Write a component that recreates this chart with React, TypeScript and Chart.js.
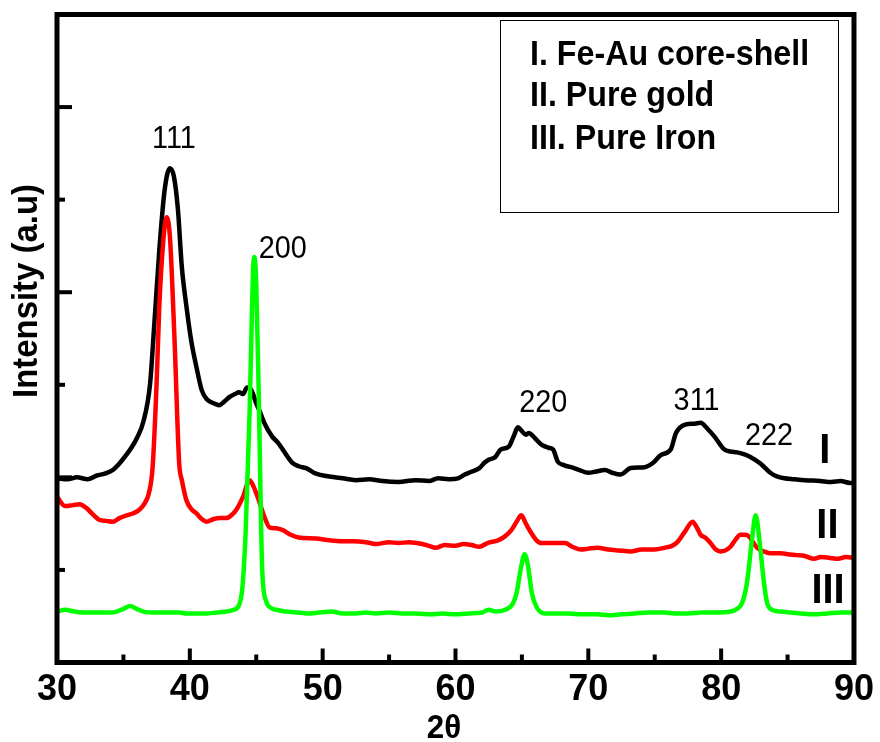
import React, { useEffect, useRef } from "react";
import { Chart, registerables } from "chart.js";

Chart.register(...registerables);

// 2θ positions (degrees) and intensities (a.u., offset per trace)
const coreShellX = [
  30.0, 30.8, 31.5, 32.3, 33.0, 33.6, 34.2, 34.7, 35.2, 35.6, 36.0, 36.5, 37.0, 37.3, 37.7, 38.1, 38.5, 38.8, 39.1,
  39.4, 39.75, 40.1, 40.5, 40.9, 41.3, 41.8, 42.2, 42.6, 43.0, 43.4, 43.7, 44.0, 44.3, 44.6, 45.0, 45.3, 45.6, 46.2,
  46.6, 47.0, 47.7, 48.2, 48.75, 49.5, 50.5, 51.5, 52.5, 53.5, 54.5, 55.7, 57.0, 58.0, 58.7, 59.5, 60.2, 60.7, 61.2,
  61.8, 62.2, 62.5, 63.0, 63.4, 64.0, 64.4, 64.7, 65.0, 65.3, 65.5, 66.0, 66.5, 67.0, 67.35, 67.7, 68.2, 68.7, 69.3,
  70.0, 70.5, 71.25, 71.8, 72.4, 73.2, 74.25, 74.9, 75.45, 76.2, 76.6, 77.3, 78.0, 78.45, 79.0, 79.5, 80.25, 80.7,
  81.2, 81.7, 82.2, 82.95, 83.7, 84.2, 84.75, 85.5, 86.3, 87.45, 88.3, 89.0, 89.7, 90.0,
];
const coreShellY = [
  1.99, 1.98, 2.0, 1.98, 2.02, 2.04, 2.08, 2.15, 2.24, 2.32, 2.42, 2.6, 3.0, 3.6, 4.45, 5.1, 5.34, 5.25, 4.9,
  4.27, 3.84, 3.48, 3.19, 2.94, 2.84, 2.8, 2.78, 2.82, 2.87, 2.9, 2.92, 2.9, 2.97, 2.95, 2.8, 2.7, 2.59, 2.44,
  2.38, 2.3, 2.16, 2.12, 2.1, 2.04, 2.01, 1.99, 1.97, 1.98, 1.96, 1.95, 1.97, 1.96, 1.99, 1.98, 1.99, 2.03, 2.06,
  2.1, 2.16, 2.19, 2.22, 2.3, 2.33, 2.45, 2.54, 2.5, 2.46, 2.48, 2.42, 2.35, 2.32, 2.3, 2.17, 2.13, 2.11, 2.08,
  2.05, 2.06, 2.08, 2.05, 2.03, 2.1, 2.11, 2.16, 2.24, 2.3, 2.48, 2.57, 2.58, 2.59, 2.52, 2.44, 2.3, 2.28,
  2.27, 2.25, 2.22, 2.15, 2.05, 2.01, 1.99, 1.98, 1.97, 1.96, 1.95, 1.96, 1.94, 1.94,
];

const goldX = [
  30.0, 30.6, 31.2, 31.7, 32.2, 32.7, 33.2, 33.7, 34.2, 34.7, 35.25, 35.7, 36.2, 36.6, 36.9, 37.2, 37.5, 37.7, 38.0,
  38.25, 38.5, 38.85, 39.2, 39.4, 39.75, 40.1, 40.5, 40.9, 41.25, 41.8, 42.3, 42.75, 43.2, 43.5, 44.0, 44.5, 44.8,
  45.2, 45.6, 46.0, 46.5, 47.0, 47.6, 48.2, 49.5, 50.5, 51.5, 52.3, 53.25, 54.0, 55.0, 55.7, 56.5, 57.5, 58.0, 58.5,
  59.2, 60.0, 60.6, 61.2, 61.8, 62.4, 63.2, 63.7, 64.2, 64.6, 64.95, 65.3, 65.7, 66.1, 66.45, 67.2, 68.25, 68.8,
  69.45, 70.0, 70.7, 71.5, 72.3, 73.2, 74.0, 74.8, 75.75, 76.3, 76.7, 77.3, 77.85, 78.2, 78.45, 78.8, 79.2, 79.6,
  79.95, 80.3, 80.7, 81.1, 81.45, 81.8, 82.1, 82.4, 82.7, 83.2, 83.7, 84.5, 85.0, 85.7, 86.3, 87.0, 87.5, 88.2,
  88.8, 89.4, 90.0,
];
const goldY = [
  1.79, 1.69, 1.7, 1.71, 1.67, 1.6, 1.54, 1.53, 1.52, 1.56, 1.59, 1.61, 1.65, 1.72, 1.82, 2.11, 3.02, 3.84, 4.55,
  4.81, 4.6, 3.48, 2.15, 1.97, 1.75, 1.66, 1.61, 1.55, 1.52, 1.55, 1.56, 1.56, 1.6, 1.65, 1.79, 1.97, 1.9,
  1.75, 1.58, 1.46, 1.45, 1.43, 1.38, 1.35, 1.34, 1.32, 1.31, 1.31, 1.3, 1.28, 1.3, 1.29, 1.3, 1.28, 1.26, 1.24,
  1.27, 1.26, 1.28, 1.27, 1.25, 1.29, 1.32, 1.36, 1.43, 1.52, 1.59, 1.5, 1.4, 1.32, 1.29, 1.29, 1.29, 1.25,
  1.22, 1.23, 1.24, 1.22, 1.21, 1.2, 1.22, 1.22, 1.24, 1.26, 1.3, 1.42, 1.52, 1.45, 1.38, 1.35, 1.29, 1.22,
  1.2, 1.21, 1.25, 1.33, 1.38, 1.38, 1.36, 1.3, 1.24, 1.2, 1.18, 1.18, 1.17, 1.16, 1.15, 1.12, 1.14, 1.13,
  1.12, 1.14, 1.13,
];

const ironX = [
  30.0, 30.6, 31.3, 32.0, 32.5, 33.3, 34.0, 34.5, 35.0, 35.5, 36.0, 36.5, 37.5, 38.5, 39.2, 39.75, 40.5, 41.2, 42.0,
  42.75, 43.3, 43.7, 43.95, 44.2, 44.5, 44.75, 44.85, 45.0, 45.2, 45.45, 45.75, 46.1, 46.5, 47.2, 48.2, 49.0, 49.7,
  50.7, 51.5, 52.5, 53.25, 54.0, 55.0, 56.0, 57.0, 58.2, 59.0, 60.0, 61.0, 62.0, 62.5, 63.0, 63.75, 64.3, 64.6,
  64.9, 65.2, 65.45, 65.75, 66.1, 66.75, 67.5, 68.5, 69.5, 70.7, 71.5, 72.5, 73.5, 74.5, 75.75, 76.5, 77.5, 78.5,
  79.5, 80.7, 81.2, 81.5, 81.8, 82.0, 82.3, 82.6, 82.9, 83.2, 83.45, 83.7, 84.5, 85.3, 86.0, 87.0, 88.0, 89.0, 90.0,
];
const ironY = [
  0.55, 0.57, 0.55, 0.54, 0.54, 0.54, 0.54, 0.55, 0.58, 0.61, 0.58, 0.55, 0.54, 0.54, 0.54, 0.53, 0.53, 0.53, 0.54,
  0.55, 0.57, 0.62, 0.8, 1.4, 2.7, 4.2, 4.38, 4.1, 2.8, 1.0, 0.66, 0.59, 0.57, 0.55, 0.54, 0.53, 0.54,
  0.55, 0.53, 0.53, 0.54, 0.53, 0.54, 0.53, 0.53, 0.52, 0.53, 0.52, 0.53, 0.54, 0.57, 0.55, 0.57, 0.63, 0.75,
  1.0, 1.17, 1.05, 0.75, 0.6, 0.53, 0.53, 0.53, 0.52, 0.52, 0.51, 0.52, 0.53, 0.54, 0.54, 0.53, 0.53, 0.54,
  0.54, 0.55, 0.58, 0.62, 0.75, 0.92, 1.3, 1.59, 1.3, 0.89, 0.65, 0.58, 0.55, 0.54, 0.53, 0.52, 0.53, 0.54, 0.54,
];

// Miller indices annotated over the peaks
const peakLabels = ["111", "200", "220", "311", "222"];
const peakLabelPos = [
  { x: 38.8, y: 5.56 },
  { x: 47.0, y: 4.37 },
  { x: 66.6, y: 2.71 },
  { x: 78.15, y: 2.73 },
  { x: 83.6, y: 2.35 },
];
// Trace labels at the right end
const traceLabels = ["I", "II", "III"];
const traceLabelPos = [
  { x: 87.8, y: 2.16 },
  { x: 88.0, y: 1.35 },
  { x: 88.05, y: 0.64 },
];
const legendLines = ["I. Fe-Au core-shell", "II. Pure gold", "III. Pure Iron"];

const xMin = 30;
const xMax = 90;
const yMin = 0;
const yMax = 7;

const FONT = '"Liberation Sans", Arial, Helvetica, sans-serif';

const toPoints = (xs: number[], ys: number[]) => xs.map((x, i) => ({ x, y: ys[i] }));

// Text in a slightly condensed face: draw at full size, squeeze horizontally
function condensedText(ctx: CanvasRenderingContext2D, text: string, x: number, y: number, font: string, sx: number, align: CanvasTextAlign) {
  ctx.save();
  ctx.font = font;
  ctx.textAlign = align;
  ctx.textBaseline = "alphabetic";
  ctx.translate(x, y);
  ctx.scale(sx, 1);
  ctx.fillText(text, 0, 0);
  ctx.restore();
}

// Frame with inward ticks, annotations and the text box
const decorations = {
  id: "decorations",
  afterDatasetsDraw(chart: any) {
    const { ctx, chartArea } = chart;
    const xs = chart.scales.x;
    const ys = chart.scales.y;
    const { left, right, top, bottom } = chartArea;
    ctx.save();
    ctx.strokeStyle = "#000";
    ctx.fillStyle = "#000";
    ctx.lineCap = "butt";

    // bottom axis ticks (pointing inward)
    ctx.lineWidth = 4;
    for (let v = xMin + 5; v < xMax; v += 5) {
      const px = xs.getPixelForValue(v);
      const len = v % 10 === 0 ? 14 : 8;
      ctx.beginPath();
      ctx.moveTo(px, bottom);
      ctx.lineTo(px, bottom - len);
      ctx.stroke();
    }
    // left axis ticks
    for (let v = yMin + 1; v < yMax; v += 1) {
      const py = ys.getPixelForValue(v);
      const len = v % 2 === 0 ? 15 : 8;
      ctx.beginPath();
      ctx.moveTo(left, py);
      ctx.lineTo(left + len, py);
      ctx.stroke();
    }
    // frame
    ctx.lineWidth = 5;
    ctx.strokeRect(left, top, right - left, bottom - top);

    // peak indices
    peakLabels.forEach((t, i) => {
      const p = peakLabelPos[i];
      condensedText(ctx, t, xs.getPixelForValue(p.x), ys.getPixelForValue(p.y), `32px ${FONT}`, 0.9, "center");
    });
    // trace numerals
    traceLabels.forEach((t, i) => {
      const p = traceLabelPos[i];
      condensedText(ctx, t, xs.getPixelForValue(p.x), ys.getPixelForValue(p.y), `bold 42px ${FONT}`, 0.95, "center");
    });

    // text box
    ctx.lineWidth = 1;
    ctx.strokeRect(500.5, 20.5, 338, 192);
    const baselines = [65, 106, 149];
    legendLines.forEach((t, i) => condensedText(ctx, t, 530, baselines[i], `bold 35px ${FONT}`, 0.92, "left"));

    // axis titles
    ctx.save();
    ctx.translate(37, 291);
    ctx.rotate(-Math.PI / 2);
    condensedText(ctx, "Intensity (a.u)", 0, 0, `bold 35px ${FONT}`, 0.94, "center");
    ctx.restore();
    condensedText(ctx, "2θ", 444, 738, `bold 33px ${FONT}`, 0.95, "center");
    ctx.restore();
  },
};

export default function App() {
  const canvasRef = useRef<HTMLCanvasElement | null>(null);

  useEffect(() => {
    const canvas = canvasRef.current;
    if (!canvas) return;
    const line = (data: { x: number; y: number }[], color: string) => ({
      data,
      borderColor: color,
      backgroundColor: color,
      borderWidth: 4.5,
      pointRadius: 0,
      fill: false,
      cubicInterpolationMode: "monotone" as const,
      borderJoinStyle: "round" as const,
      borderCapStyle: "round" as const,
    });
    const chart = new Chart(canvas, {
      type: "line",
      data: {
        datasets: [
          { label: "III. Pure Iron", ...line(toPoints(ironX, ironY), "#00ff00") },
          { label: "II. Pure gold", ...line(toPoints(goldX, goldY), "#ff0000") },
          { label: "I. Fe-Au core-shell", ...line(toPoints(coreShellX, coreShellY), "#000000") },
        ],
      },
      options: {
        responsive: false,
        animation: false,
        layout: { padding: { left: 57, right: 23, top: 14.5, bottom: 0 } },
        plugins: {
          legend: { display: false },
          tooltip: { enabled: false },
          title: { display: false },
        },
        scales: {
          x: {
            type: "linear",
            min: xMin,
            max: xMax,
            grid: { display: false, drawTicks: false },
            border: { display: false },
            ticks: {
              stepSize: 10,
              color: "#000",
              padding: 6,
              maxRotation: 0,
              font: { family: FONT, size: 36, weight: "bold" },
            },
            afterFit: (scale: any) => {
              scale.height = 79.5;
            },
          },
          y: {
            type: "linear",
            min: yMin,
            max: yMax,
            display: false,
          },
        },
      },
      plugins: [decorations],
    });
    return () => chart.destroy();
  }, []);

  return (
    <div style={{ position: "absolute", left: 0, top: 0, width: 880, height: 742, background: "#fff" }}>
      <canvas ref={canvasRef} width={880} height={742} />
    </div>
  );
}
